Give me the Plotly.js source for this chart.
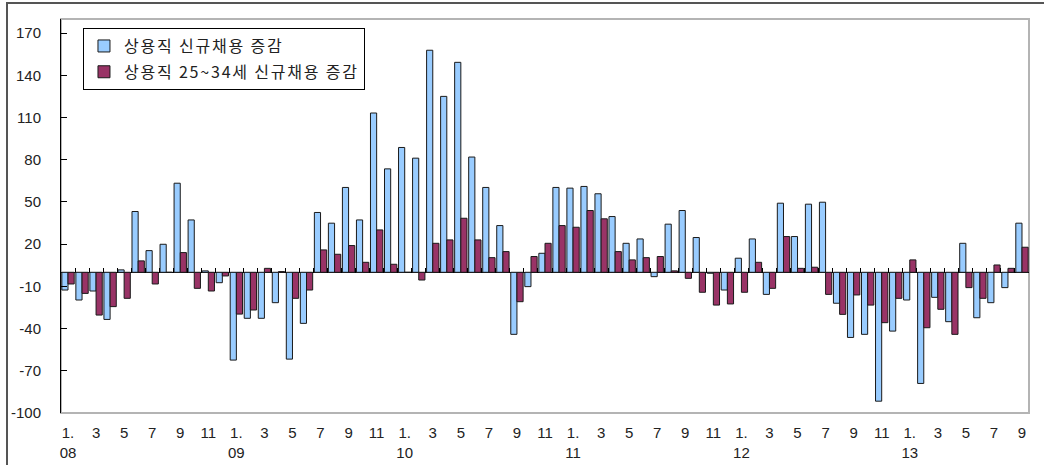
<!DOCTYPE html>
<html>
<head>
<meta charset="utf-8">
<script src="https://cdn.plot.ly/plotly-3.0.1.min.js"></script>
<style>
  html, body { margin: 0; padding: 0; background: #fff; }
  #chart { position: absolute; left: 0; top: 0; width: 1044px; height: 465px; }
  #frame { position: absolute; left: 6px; top: 2px; width: 1100px; height: 500px;
           border-left: 2px solid #555; border-top: 2px solid #555; pointer-events: none; }
  .legendtext { letter-spacing: 1.8px; }
</style>
</head>
<body>
<div id="chart"></div>
<div id="frame"></div>
<script>
const months = [
  "08.01","08.02","08.03","08.04","08.05","08.06","08.07","08.08","08.09","08.10","08.11","08.12",
  "09.01","09.02","09.03","09.04","09.05","09.06","09.07","09.08","09.09","09.10","09.11","09.12",
  "10.01","10.02","10.03","10.04","10.05","10.06","10.07","10.08","10.09","10.10","10.11","10.12",
  "11.01","11.02","11.03","11.04","11.05","11.06","11.07","11.08","11.09","11.10","11.11","11.12",
  "12.01","12.02","12.03","12.04","12.05","12.06","12.07","12.08","12.09","12.10","12.11","12.12",
  "13.01","13.02","13.03","13.04","13.05","13.06","13.07","13.08","13.09"
];

const regularNewHires = [
  -12.6, -19.7, -13.3, -33.5, 1.7, 43.2, 15.4, 19.9, 63.3, 37.2, 1.0, -7.4,
  -62.4, -32.7, -32.7, -21.6, -61.7, -36.3, 42.5, 34.9, 60.3, 37.2, 113.2, 73.5,
  88.7, 81.1, 157.8, 125.0, 149.2, 81.9, 60.3, 33.2, -44.1, -10.2, 13.5, 60.3,
  59.8, 61.0, 55.8, 39.6, 20.6, 23.7, -3.1, 34.2, 43.9, 24.7, -0.7, -12.6,
  10.0, 23.7, -15.7, 49.1, 25.4, 48.4, 49.8, -22.0, -46.3, -44.1, -91.6, -41.8,
  -19.7, -79.0, -17.8, -35.1, 20.6, -32.3, -21.6, -10.9, 34.9
];

const youthNewHires = [
  -8.3, -15.0, -30.4, -24.4, -18.5, 8.1, -8.3, 0.0, 14.0, -11.4, -13.3, -2.6,
  -29.7, -26.8, 2.8, 0.5, -18.5, -12.6, 15.9, 12.8, 19.0, 7.1, 30.1, 5.7,
  0.0, -5.5, 20.6, 23.0, 38.4, 23.0, 10.4, 14.7, -20.9, 11.2, 20.6, 33.2,
  32.0, 43.9, 38.0, 14.7, 8.8, 10.4, 11.2, 1.0, -4.3, -14.2, -23.3, -22.5,
  -14.2, 7.1, -11.4, 25.4, 2.8, 3.6, -15.7, -29.9, -16.1, -23.3, -35.8, -18.5,
  8.8, -39.4, -26.3, -44.1, -10.9, -18.5, 5.2, 2.8, 17.8
];

const xTickVals = [
  "08.01","08.03","08.05","08.07","08.09","08.11",
  "09.01","09.03","09.05","09.07","09.09","09.11",
  "10.01","10.03","10.05","10.07","10.09","10.11",
  "11.01","11.03","11.05","11.07","11.09","11.11",
  "12.01","12.03","12.05","12.07","12.09","12.11",
  "13.01","13.03","13.05","13.07","13.09"
];
const xTickText = [
  "1.<br>08","3","5","7","9","11",
  "1.<br>09","3","5","7","9","11",
  "1.<br>10","3","5","7","9","11",
  "1.<br>11","3","5","7","9","11",
  "1.<br>12","3","5","7","9","11",
  "1.<br>13","3","5","7","9"
];
const yTickVals = [-100, -70, -40, -10, 20, 50, 80, 110, 140, 170];
const yTickText = ["-100", "-70", "-40", "-10", "20", "50", "80", "110", "140", "170"];

const seriesNames = ["상용직 신규채용 증감", "상용직 25~34세 신규채용 증감"];

const yMin = -100, yMax = 180;
const boundaries = months.slice(1).map((_, i) => i + 0.5);

const traces = [
  {
    type: "bar", x: months, y: regularNewHires, name: seriesNames[0],
    legendgroup: "a",
    marker: { color: "#99CCFF", line: { color: "#1a1a1a", width: 1 } },
    hoverinfo: "x+y"
  },
  {
    type: "bar", x: months, y: youthNewHires, name: seriesNames[1],
    legendgroup: "b",
    marker: { color: "#993366", line: { color: "#1a1a1a", width: 1 } },
    hoverinfo: "x+y"
  },
  {
    type: "scatter", x: [], y: [], xaxis: "x2", yaxis: "y",
    showlegend: false, hoverinfo: "skip"
  }
];

const layout = {
  width: 1044, height: 465,
  margin: { l: 61, r: 15, t: 19, b: 52 },
  paper_bgcolor: "rgba(0,0,0,0)",
  plot_bgcolor: "#fff",
  barmode: "group",
  bargap: 0.12,
  bargroupgap: 0,
  showlegend: true,
  font: { family: "Liberation Sans, Arial, sans-serif", color: "#222" },
  legend: {
    x: 0.0227, y: 0.977, xanchor: "left", yanchor: "top",
    bgcolor: "#fff", bordercolor: "#000", borderwidth: 1,
    font: { family: "Noto Sans CJK KR, sans-serif", size: 16, color: "#222" },
    traceorder: "grouped", tracegroupgap: 2,
    itemclick: false
  },
  xaxis: {
    type: "category",
    categoryorder: "array", categoryarray: months,
    range: [-0.5, months.length - 0.5],
    tickmode: "array", tickvals: xTickVals, ticktext: xTickText,
    ticks: "", ticklabelstandoff: 9,
    tickfont: { size: 15, color: "#222" },
    showline: false, showgrid: false, zeroline: false
  },
  xaxis2: {
    overlaying: "x", anchor: "free", position: (0 - yMin) / (yMax - yMin),
    side: "top", range: [-0.5, months.length - 0.5],
    tickmode: "array", tickvals: boundaries,
    ticks: "outside", ticklen: 4, tickwidth: 1, tickcolor: "#000",
    showticklabels: false, showline: false, showgrid: false, zeroline: false
  },
  yaxis: {
    range: [yMin, yMax],
    tickmode: "array", tickvals: yTickVals, ticktext: yTickText,
    ticks: "inside", ticklen: 6, tickwidth: 1, tickcolor: "#000",
    ticklabelstandoff: 16,
    tickfont: { size: 15, color: "#222" },
    showline: true, linecolor: "#000", linewidth: 1,
    showgrid: false,
    zeroline: true, zerolinecolor: "#000", zerolinewidth: 1
  },
  shapes: [
    { type: "rect", xref: "paper", yref: "paper", x0: 0, x1: 1, y0: 0, y1: 1,
      line: { color: "#b4b4b4", width: 2 }, layer: "below" }
  ]
};

Plotly.newPlot("chart", traces, layout, { displayModeBar: false, staticPlot: true });
</script>
</body>
</html>
